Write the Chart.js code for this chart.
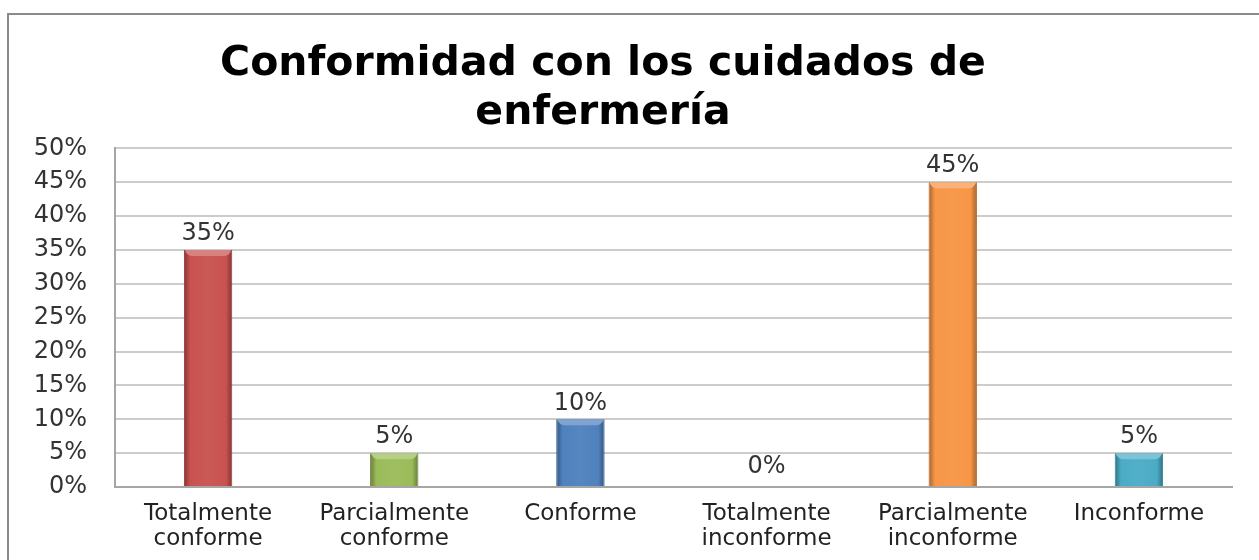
<!DOCTYPE html>
<html>
<head>
<meta charset="utf-8">
<script src="https://cdn.jsdelivr.net/npm/chart.js@4.4.1/dist/chart.umd.min.js"></script>
<style>
  html, body { margin: 0; padding: 0; background: #fff; overflow: hidden; width: 1259px; height: 560px; }
  #wrap { position: absolute; left: -26px; top: 0; width: 1285px; height: 560px; }
  #frame { position: absolute; left: 7px; top: 13px; width: 1300px; height: 600px; border-left: 2px solid #8a8a8a; border-top: 2px solid #8a8a8a; pointer-events: none; }
</style>
</head>
<body>
<div id="wrap"><canvas id="c" width="1285" height="560"></canvas></div>
<div id="frame"></div>
<script>
const titleLines = ["Conformidad con los cuidados de", "enfermería"];
const categories = [
  ["Totalmente", "conforme"],
  ["Parcialmente", "conforme"],
  ["Conforme"],
  ["Totalmente", "inconforme"],
  ["Parcialmente", "inconforme"],
  ["Inconforme"]
];
const values = [35, 5, 10, 0, 45, 5];
const barColors = ["#C9524F", "#9BBB59", "#4F81BD", "#D9D9D9", "#F79646", "#4BACC6"];
const barEdgeColors = ["#8E3431", "#6F8A3A", "#345C8E", "#999999", "#B86A2A", "#2F7F93"];
const yTickMax = 50;
const yTickStep = 5;

function shade(hex, f) {
  const n = parseInt(hex.slice(1), 16);
  let r = (n >> 16) & 255, g = (n >> 8) & 255, b = n & 255;
  const m = v => Math.max(0, Math.min(255, Math.round(f < 0 ? v * (1 + f) : v + (255 - v) * f)));
  return `rgb(${m(r)},${m(g)},${m(b)})`;
}

// Apply horizontal bevel gradients once bar geometry is known
const bevelFill = {
  id: 'bevelFill',
  beforeDatasetsDraw(chart) {
    const ctx = chart.ctx;
    chart.getDatasetMeta(0).data.forEach((el, i) => {
      if (!isFinite(el.x) || !el.width) return;
      const base = barColors[i];
      const half = el.width / 2;
      const g = ctx.createLinearGradient(el.x - half, 0, el.x + half, 0);
      g.addColorStop(0, shade(base, -0.35));
      g.addColorStop(0.13, base);
      g.addColorStop(0.5, shade(base, 0.04));
      g.addColorStop(0.87, base);
      g.addColorStop(1, shade(base, -0.35));
      el.options.backgroundColor = g;
    });
  }
};

const topBevel = {
  id: 'topBevel',
  afterDatasetsDraw(chart) {
    const ctx = chart.ctx;
    chart.getDatasetMeta(0).data.forEach((el, i) => {
      if (values[i] <= 0) return;
      const half = el.width / 2;
      ctx.save();
      ctx.fillStyle = shade(barColors[i], 0.28);
      ctx.beginPath();
      ctx.moveTo(el.x - half + 1, el.y);
      ctx.lineTo(el.x + half - 1, el.y);
      ctx.quadraticCurveTo(el.x + half - 3, el.y + 6, el.x + half - 9, el.y + 6);
      ctx.lineTo(el.x - half + 9, el.y + 6);
      ctx.quadraticCurveTo(el.x - half + 3, el.y + 6, el.x - half + 1, el.y);
      ctx.closePath();
      ctx.fill();
      ctx.restore();
    });
  }
};

const dataLabels = {
  id: 'dataLabels',
  afterDatasetsDraw(chart) {
    const ctx = chart.ctx;
    ctx.save();
    ctx.font = '24px "DejaVu Sans"';
    ctx.fillStyle = '#333333';
    ctx.textAlign = 'center';
    ctx.textBaseline = 'bottom';
    chart.getDatasetMeta(0).data.forEach((el, i) => {
      ctx.fillText(values[i] + '%', el.x, el.y - (values[i] === 0 ? 8 : 4));
    });
    ctx.restore();
  }
};

new Chart(document.getElementById('c'), {
  type: 'bar',
  data: {
    labels: categories,
    datasets: [{
      data: values,
      backgroundColor: barColors,
      borderColor: barEdgeColors,
      borderWidth: 1,
      barPercentage: 0.52,
      categoryPercentage: 0.5
    }]
  },
  options: {
    responsive: false,
    animation: false,
    layout: { padding: { left: 0, right: 27, top: 0, bottom: 0 } },
    plugins: {
      legend: { display: false },
      tooltip: { enabled: false },
      title: {
        display: true,
        text: titleLines,
        color: '#000000',
        font: { family: '"DejaVu Sans"', size: 41, weight: 'bold', lineHeight: 1.2 },
        padding: { top: 40, bottom: 10 }
      }
    },
    scales: {
      y: {
        min: 0,
        max: yTickMax,
        afterFit(scale) { scale.width = 141; },
        ticks: {
          stepSize: yTickStep,
          padding: 28,
          color: '#333333',
          font: { family: '"DejaVu Sans"', size: 24 },
          callback: v => v + '%'
        },
        grid: { color: '#cccccc', lineWidth: 2, drawTicks: false },
        border: { color: '#a6a6a6', width: 2 }
      },
      x: {
        afterFit(scale) { scale.height = 73; },
        ticks: {
          padding: 14,
          color: '#222222',
          maxRotation: 0,
          autoSkip: false,
          font: { family: '"DejaVu Sans"', size: 23, lineHeight: 1.1 }
        },
        grid: { display: false, drawTicks: false },
        border: { color: '#a6a6a6', width: 2 }
      }
    }
  },
  plugins: [bevelFill, dataLabels, topBevel]
});
</script>
</body>
</html>
